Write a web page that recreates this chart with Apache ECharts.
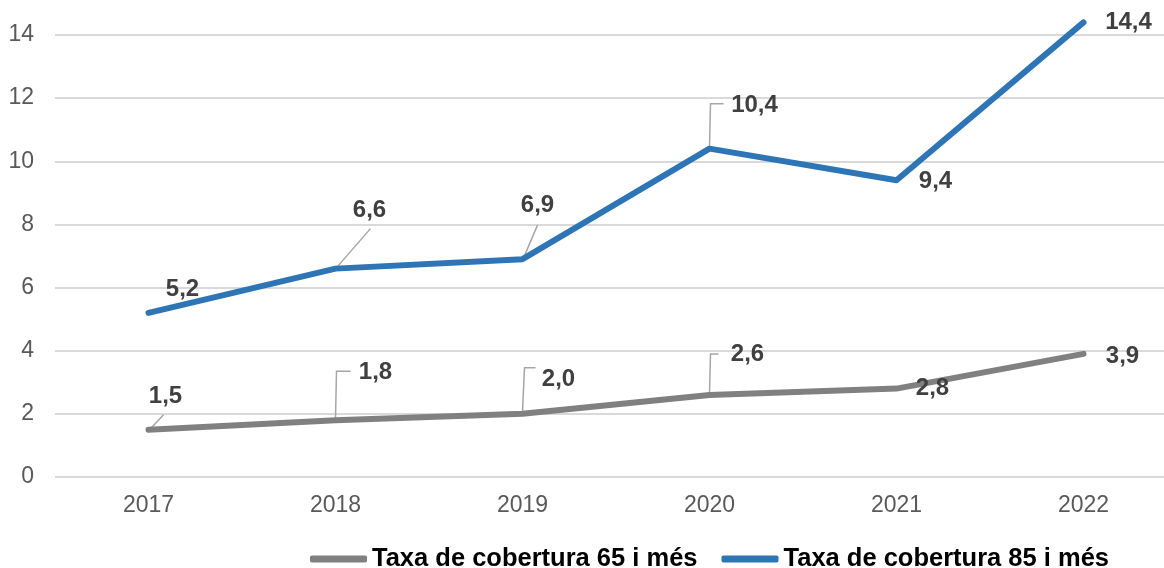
<!DOCTYPE html>
<html>
<head>
<meta charset="utf-8">
<script src="https://cdn.jsdelivr.net/npm/echarts@6/dist/echarts.min.js"></script>
<style>
  html, body { margin: 0; padding: 0; background: #ffffff; overflow: hidden; }
  #chart { width: 1180px; height: 568px; }
</style>
</head>
<body>
<div id="chart"></div>
<script>
// Taxa de cobertura per anys
const years = ['2017', '2018', '2019', '2020', '2021', '2022'];
const taxa65 = [1.5, 1.8, 2.0, 2.6, 2.8, 3.9];
const taxa85 = [5.2, 6.6, 6.9, 10.4, 9.4, 14.4];
const seriesNames = ['Taxa de cobertura 65 i més', 'Taxa de cobertura 85 i més'];
const yTicks = [0, 2, 4, 6, 8, 10, 12, 14];

// Label placement (pixel offset of each label centre from its point)
const labelOffsets = [
  [[17, -33], [40, -48], [36, -34], [38, -41], [36, 0], [39, 3]],
  [[34, -23], [34, -58], [15, -54], [45, -43], [39, 1], [45, 0]]
];
// Leader lines (pixel polylines starting at the point); null = no leader
const leaders = [
  [[[2, -1], [15, -15]], [[0, -2], [1, -49], [15, -49]], [[0, -2], [2, -46], [13, -46]], [[0, -2], [1, -41], [9, -41]], null, null],
  [null, [[1, -1], [35, -40]], [[1, -1], [15, -34]], [[0, -2], [1, -45], [14, -45]], null, null]
];

const colors = ['#808080', '#2e75b6'];
const FONT = '"Liberation Sans", Arial, sans-serif';

function lineSeries(si, values) {
  return {
    name: seriesNames[si],
    type: 'line',
    data: values.map((v, i) => ({
      value: v,
      label: { offset: labelOffsets[si][i] }
    })),
    color: colors[si],
    symbol: 'circle',
    symbolSize: 1,
    showSymbol: true,
    clip: false,
    z: 3,
    lineStyle: { width: 6, color: colors[si], cap: 'round', join: 'round' },
    itemStyle: { color: colors[si] },
    label: {
      show: true,
      position: 'inside',
      formatter: p => p.value.toFixed(1).replace('.', ','),
      fontFamily: FONT,
      fontWeight: 'bold',
      fontSize: 24,
      color: '#404040'
    },
    emphasis: { disabled: true }
  };
}

// Leader line points for the custom series
const leaderData = [];
[taxa65, taxa85].forEach((vals, si) => {
  vals.forEach((v, i) => {
    if (leaders[si][i]) leaderData.push([i, v, si]);
  });
});

const chart = echarts.init(document.getElementById('chart'), null, { renderer: 'canvas' });
chart.setOption({
  animation: false,
  backgroundColor: '#ffffff',
  grid: { left: 55, top: 35, width: 1122, height: 442, containLabel: false },
  legend: {
    top: 541,
    left: 305,
    itemWidth: 57,
    itemHeight: 7,
    itemGap: 24,
    icon: 'roundRect',
    data: seriesNames,
    textStyle: { fontFamily: FONT, fontWeight: 'bold', fontSize: 25.5, color: '#000000' }
  },
  xAxis: {
    type: 'category',
    data: years,
    boundaryGap: true,
    axisLine: { show: false },
    axisTick: { show: false },
    axisLabel: { fontFamily: FONT, fontSize: 23, color: '#595959', margin: 17 }
  },
  yAxis: {
    type: 'value',
    min: yTicks[0],
    max: yTicks[yTicks.length - 1],
    interval: 2,
    axisLine: { show: false },
    axisTick: { show: false },
    axisLabel: { fontFamily: FONT, fontSize: 23, color: '#595959', margin: 21 },
    splitLine: { lineStyle: { color: '#d9d9d9', width: 2 } }
  },
  series: [
    {
      type: 'custom',
      silent: true,
      z: 2,
      clip: false,
      data: leaderData,
      renderItem: function (params, api) {
        const si = api.value(2);
        const idx = api.value(0);
        const p = api.coord([idx, api.value(1)]);
        const pts = leaders[si][idx].map(d => [p[0] + d[0], p[1] + d[1]]);
        return {
          type: 'polyline',
          shape: { points: pts },
          style: { stroke: '#a6a6a6', lineWidth: 1.5, fill: null }
        };
      }
    },
    lineSeries(0, taxa65),
    lineSeries(1, taxa85)
  ]
});
</script>
</body>
</html>
